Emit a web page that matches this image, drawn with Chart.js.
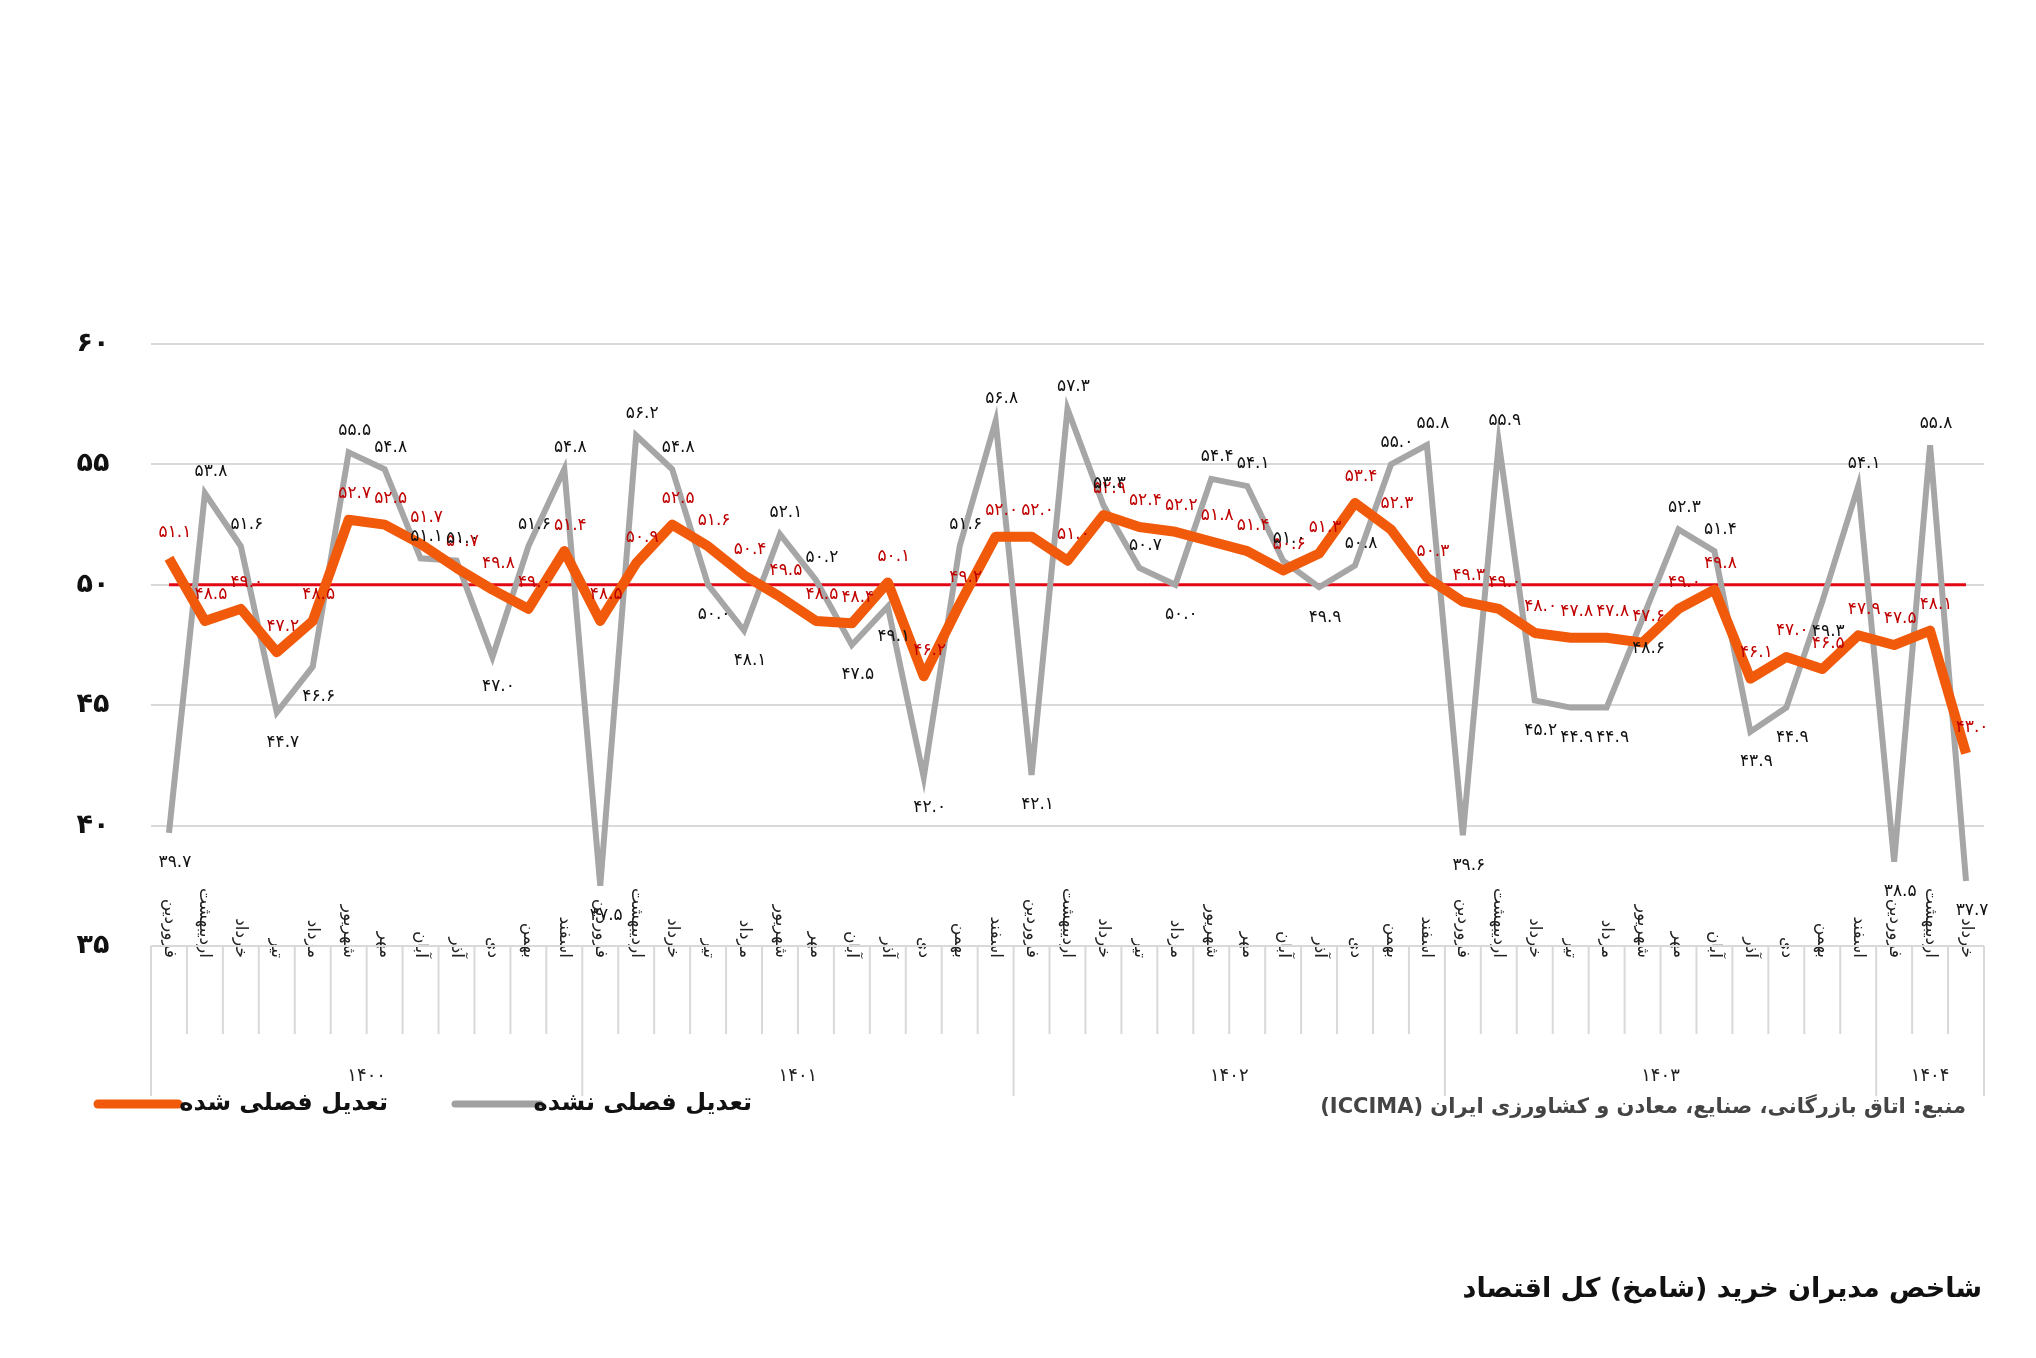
<!DOCTYPE html>
<html>
<head>
<meta charset="utf-8">
<script src="https://cdn.jsdelivr.net/npm/chart.js@4.4.1/dist/chart.umd.min.js"></script>
<style>
  html, body { margin: 0; padding: 0; background: #fff; }
  #wrap { width: 2036px; height: 1358px; position: relative; }
</style>
</head>
<body>
<div id="wrap"><canvas id="pmi" width="2036" height="1358"></canvas></div>
<script>
// داده‌ها
const months = ["فروردین","اردیبهشت","خرداد","تیر","مرداد","شهریور","مهر","آبان","آذر","دی","بهمن","اسفند"];
const years = ["۱۴۰۰","۱۴۰۱","۱۴۰۲","۱۴۰۳","۱۴۰۴"];
const monthsPerYear = [12, 12, 12, 12, 3];
const yTicks = [35, 40, 45, 50, 55, 60];

const seasonallyAdjusted = [
  51.1, 48.5, 49.0, 47.2, 48.5, 52.7, 52.5, 51.7, 50.7, 49.8, 49.0, 51.4,
  48.5, 50.9, 52.5, 51.6, 50.4, 49.5, 48.5, 48.4, 50.1, 46.2, 49.2, 52.0,
  52.0, 51.0, 52.9, 52.4, 52.2, 51.8, 51.4, 50.6, 51.3, 53.4, 52.3, 50.3,
  49.3, 49.0, 48.0, 47.8, 47.8, 47.6, 49.0, 49.8, 46.1, 47.0, 46.5, 47.9,
  47.5, 48.1, 43.0
];
const notAdjusted = [
  39.7, 53.8, 51.6, 44.7, 46.6, 55.5, 54.8, 51.1, 51.0, 47.0, 51.6, 54.8,
  37.5, 56.2, 54.8, 50.0, 48.1, 52.1, 50.2, 47.5, 49.1, 42.0, 51.6, 56.8,
  42.1, 57.3, 53.3, 50.7, 50.0, 54.4, 54.1, 51.0, 49.9, 50.8, 55.0, 55.8,
  39.6, 55.9, 45.2, 44.9, 44.9, 48.6, 52.3, 51.4, 43.9, 44.9, 49.3, 54.1,
  38.5, 55.8, 37.7
];
const threshold = 50;

const labels = [];
monthsPerYear.forEach((n, yi) => {
  for (let m = 0; m < n; m++) labels.push(months[m] + " " + years[yi]);
});

const fa = s => String(s).replace(/\d/g, d => "۰۱۲۳۴۵۶۷۸۹"[d]);
const FONT = "'DejaVu Sans', sans-serif";

// پلاگین: خط ۵۰، برچسب‌ها، محور افقی
const decor = {
  id: "decor",
  beforeDatasetsDraw(chart) {
    const { ctx, scales: { x, y } } = chart;
    const yy = y.getPixelForValue(threshold);
    ctx.save();
    ctx.strokeStyle = "#e30613";
    ctx.lineWidth = 3;
    ctx.beginPath();
    ctx.moveTo(x.getPixelForValue(0), yy);
    ctx.lineTo(x.getPixelForValue(labels.length - 1), yy);
    ctx.stroke();
    ctx.restore();
  },
  afterDraw(chart) {
    const { ctx, chartArea, scales: { x, y } } = chart;
    ctx.save();
    // برچسب محور عمودی
    ctx.fillStyle = "#111";
    ctx.font = "bold 27px " + FONT;
    ctx.textAlign = "center";
    ctx.textBaseline = "middle";
    yTicks.forEach(t => ctx.fillText(fa(t), 93, y.getPixelForValue(t)));

    // برچسب داده‌ها
    ctx.font = "17px " + FONT;
    seasonallyAdjusted.forEach((v, i) => {
      ctx.fillStyle = "#c00000";
      ctx.fillText(fa(v.toFixed(1)), x.getPixelForValue(i) + 6, y.getPixelForValue(v) - 26);
    });
    notAdjusted.forEach((v, i) => {
      ctx.fillStyle = "#111";
      const up = v > 50 ? -22 : 30;
      ctx.fillText(fa(v.toFixed(1)), x.getPixelForValue(i) + 6, y.getPixelForValue(v) + up);
    });

    // محور افقی
    const step = x.getPixelForValue(1) - x.getPixelForValue(0);
    const top = chartArea.bottom;
    ctx.strokeStyle = "#d9d9d9";
    ctx.lineWidth = 2;
    let idx = 0;
    monthsPerYear.forEach((n, yi) => {
      const left = x.getPixelForValue(idx) - step / 2;
      ctx.beginPath();
      ctx.moveTo(left, top);
      ctx.lineTo(left, top + 150);
      ctx.stroke();
      for (let m = 0; m < n; m++) {
        const cx = x.getPixelForValue(idx + m);
        if (m > 0) {
          ctx.beginPath();
          ctx.moveTo(cx - step / 2, top);
          ctx.lineTo(cx - step / 2, top + 88);
          ctx.stroke();
        }
        ctx.save();
        ctx.translate(cx, top + 12);
        ctx.rotate(Math.PI / 2);
        ctx.fillStyle = "#222";
        ctx.font = "17px " + FONT;
        ctx.direction = "rtl";
        ctx.textAlign = "right";
        ctx.textBaseline = "middle";
        ctx.fillText(months[m], 0, 0);
        ctx.restore();
      }
      const mid = (x.getPixelForValue(idx) + x.getPixelForValue(idx + n - 1)) / 2;
      ctx.fillStyle = "#222";
      ctx.font = "18px " + FONT;
      ctx.textAlign = "center";
      ctx.fillText(years[yi], mid, top + 130);
      idx += n;
    });
    const right = x.getPixelForValue(labels.length - 1) + step / 2;
    ctx.beginPath();
    ctx.moveTo(right, top);
    ctx.lineTo(right, top + 150);
    ctx.stroke();
    ctx.beginPath();
    ctx.moveTo(chartArea.left, top);
    ctx.lineTo(right, top);
    ctx.stroke();

    // راهنما و منبع
    const ly = 1104;
    ctx.lineCap = "round";
    ctx.lineWidth = 9;
    ctx.strokeStyle = "#f05a0a";
    ctx.beginPath(); ctx.moveTo(98, ly); ctx.lineTo(178, ly); ctx.stroke();
    ctx.lineWidth = 7;
    ctx.strokeStyle = "#a0a0a0";
    ctx.beginPath(); ctx.moveTo(455, ly); ctx.lineTo(540, ly); ctx.stroke();
    ctx.direction = "rtl";
    ctx.fillStyle = "#111";
    ctx.font = "bold 24px " + FONT;
    ctx.textAlign = "right";
    ctx.textBaseline = "middle";
    ctx.fillText("تعدیل فصلی شده", 388, ly);
    ctx.fillText("تعدیل فصلی نشده", 752, ly);
    ctx.fillStyle = "#444";
    ctx.font = "bold 21px " + FONT;
    ctx.fillText("منبع: اتاق بازرگانی، صنایع، معادن و کشاورزی ایران (ICCIMA)", 1966, 1108);
    ctx.fillStyle = "#111";
    ctx.font = "bold 27px " + FONT;
    ctx.fillText("شاخص مدیران خرید (شامخ) کل اقتصاد", 1982, 1290);
    ctx.restore();
  }
};

new Chart(document.getElementById("pmi").getContext("2d"), {
  type: "line",
  data: {
    labels: labels,
    datasets: [
      {
        label: "تعدیل فصلی نشده",
        data: notAdjusted,
        borderColor: "#a6a6a6",
        borderWidth: 6,
        pointRadius: 0,
        tension: 0,
        order: 2
      },
      {
        label: "تعدیل فصلی شده",
        data: seasonallyAdjusted,
        borderColor: "#f05a0a",
        borderWidth: 10,
        pointRadius: 0,
        tension: 0,
        borderJoinStyle: "round",
        order: 1
      }
    ]
  },
  options: {
    responsive: false,
    animation: false,
    layout: { padding: { left: 151, right: 52, top: 344, bottom: 412 } },
    plugins: { legend: { display: false }, tooltip: { enabled: false } },
    scales: {
      x: { display: false, offset: true },
      y: {
        min: 35, max: 60,
        ticks: { display: false, stepSize: 5 },
        grid: { color: "#d9d9d9", lineWidth: 2, drawTicks: false },
        border: { display: false }
      }
    }
  },
  plugins: [decor]
});
</script>
</body>
</html>
